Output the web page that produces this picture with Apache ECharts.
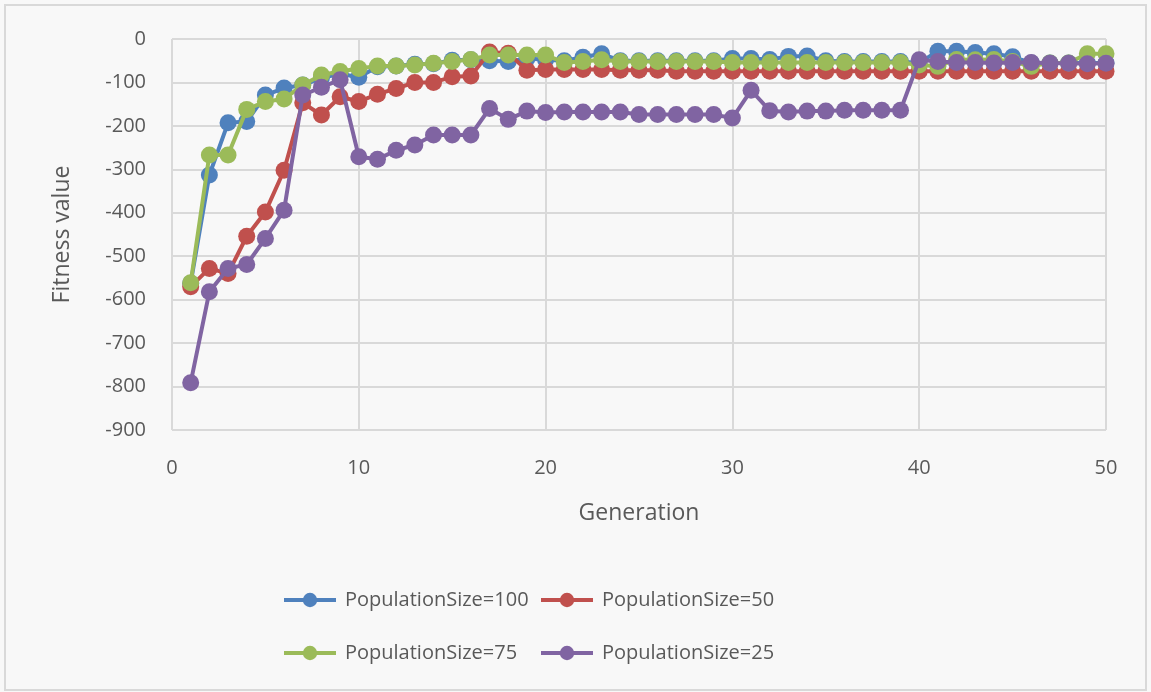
<!DOCTYPE html>
<html><head><meta charset="utf-8">
<script src="https://cdn.jsdelivr.net/npm/echarts@6/dist/echarts.min.js"></script>
<style>html,body{margin:0;padding:0;background:#f8f8f8}#c{width:1151px;height:692px}</style>
</head><body><div id="c"></div>
<script>
const generations = Array.from({length:50},(_,i)=>i+1);
const pop100 = [-562,-313,-193,-190,-129,-113,-106,-90,-80,-88,-64,-62,-58,-57,-49,-48,-50,-52,-45,-48,-50,-42,-34,-50,-50,-50,-50,-50,-50,-45,-45,-47,-40,-39,-50,-52,-52,-52,-52,-55,-28,-28,-31,-34,-41,-55,-55,-55,-55,-55];
const pop50 = [-570,-528,-540,-454,-398,-302,-147,-175,-133,-144,-127,-114,-100,-100,-87,-85,-30,-33,-72,-70,-70,-70,-70,-72,-72,-72,-74,-74,-74,-74,-74,-74,-74,-74,-74,-74,-74,-74,-74,-74,-74,-74,-74,-74,-74,-74,-74,-74,-74,-74];
const pop75 = [-561,-267,-267,-162,-144,-138,-106,-83,-75,-68,-62,-62,-60,-56,-52,-47,-37,-37,-37,-37,-54,-52,-48,-52,-52,-52,-52,-52,-52,-54,-54,-54,-54,-54,-54,-54,-54,-54,-54,-60,-63,-47,-48,-47,-52,-63,-55,-55,-34,-34];
const pop25 = [-791,-582,-528,-519,-459,-394,-129,-111,-94,-271,-277,-256,-244,-221,-221,-221,-160,-185,-166,-169,-168,-168,-168,-168,-174,-174,-174,-174,-174,-182,-118,-165,-168,-166,-166,-164,-164,-164,-164,-48,-52,-54,-54,-55,-54,-54,-56,-56,-57,-56];
const seriesNames = ['PopulationSize=100','PopulationSize=50','PopulationSize=75','PopulationSize=25'];
const colors = ['#4F81BD','#C0504D','#9BBB59','#8064A2'];
const seriesData = [pop100,pop50,pop75,pop25];

const chart = echarts.init(document.getElementById('c'));
const font = 'Open Sans, Liberation Sans, sans-serif';
const textColor = '#595959';
const legendCommon = {
  itemWidth: 52, itemHeight: 18, itemGap: 2,
  lineStyle:{width:4},
  textStyle:{fontFamily:font,fontSize:20,color:textColor,padding:[0,0,0,4]}
};
const legendPos = [[277,585],[534,585],[277,638],[534,638]];
chart.setOption({
  backgroundColor:'#f8f8f8',
  animation:false,
  color: colors,
  graphic:[{type:'rect',shape:{x:5,y:5,width:1141,height:685},
    style:{fill:'none',stroke:'#d9d9d9',lineWidth:2},silent:true}],
  grid:{left:172,right:45,top:39,bottom:262,containLabel:false},
  xAxis:{type:'value',min:0,max:50,interval:10,
    name:'Generation',nameLocation:'middle',nameGap:72,
    nameTextStyle:{fontFamily:font,fontSize:23,color:textColor},
    axisLine:{show:false},axisTick:{show:false},
    axisLabel:{fontFamily:font,fontSize:20,color:textColor,margin:28},
    splitLine:{show:true,lineStyle:{color:'#d9d9d9',width:2}}},
  yAxis:{type:'value',min:-900,max:0,interval:100,
    name:'Fitness value',nameLocation:'middle',nameGap:98,
    nameTextStyle:{fontFamily:font,fontSize:23,color:textColor},
    axisLine:{show:false},axisTick:{show:false},
    axisLabel:{fontFamily:font,fontSize:20,color:textColor,margin:26},
    splitLine:{show:true,lineStyle:{color:'#d9d9d9',width:2}}},
  legend: seriesNames.map((n,i)=>Object.assign({},legendCommon,{left:legendPos[i][0],top:legendPos[i][1],data:[n]})),
  series: seriesNames.map((n,i)=>({
    name:n,type:'line',
    data: generations.map((g,j)=>[g,seriesData[i][j]]),
    symbol:'circle',symbolSize:17,
    lineStyle:{width:4,color:colors[i]},
    itemStyle:{color:colors[i]},
    z:2+i
  }))
});
</script>
</body></html>
